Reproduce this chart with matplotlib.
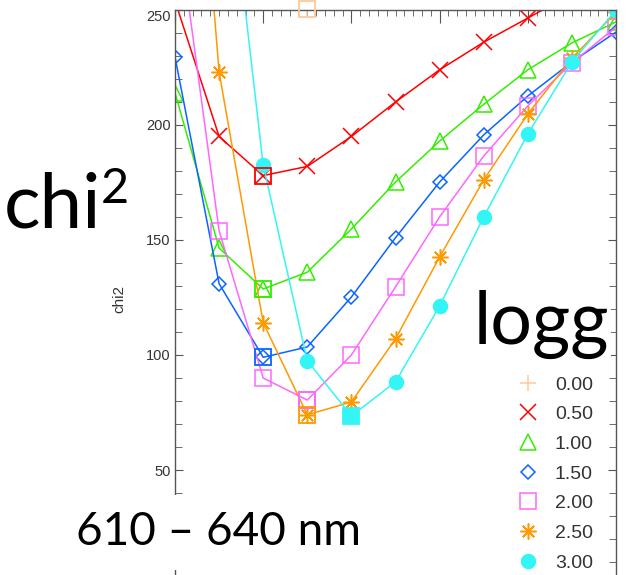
import numpy as np
import matplotlib.pyplot as plt
from matplotlib.lines import Line2D
from matplotlib.ticker import MultipleLocator, FixedLocator

# grid steps along x, chi2 for each logg model
xgrid = [0, 1, 2, 3, 4, 5, 6, 7, 8, 9, 10]
logg_labels = ['0.00', '0.50', '1.00', '1.50', '2.00', '2.50', '3.00']
chi_000 = [420, 330, 275, 250.3, 254.5, 262, 270, 278, 285, 292, 298]
chi_050 = [254, 195, 178, 182, 195, 210, 224, 236, 246.5, 257, 266]
chi_100 = [214, 146.5, 128.7, 136, 154.8, 175.2, 193, 209, 224, 235.7, 244.8]
chi_150 = [229.6, 131, 99, 103.5, 125.2, 151, 175.2, 195.7, 212.6, 227.4, 240.4]
chi_200 = [296, 154, 90, 80.4, 100, 129.6, 160, 186.5, 208.3, 227, 242.6]
chi_250 = [460, 223, 114, 74, 79.6, 107, 142.6, 176.1, 204.8, 229, 249]
chi_300 = [520, 349, 182.6, 97.5, 73.5, 88.3, 121.3, 160, 196.1, 227.4, 250]
yticks = [50, 100, 150, 200, 250]

series = [chi_000, chi_050, chi_100, chi_150, chi_200, chi_250, chi_300]
colors = ['#ffc899', '#ff0000', '#33ee00', '#0a64ff', '#ff66ff', '#ff9900', '#33f5f5']
markers = ['+', 'x', '^', 'D', 's', (8, 2, 0), 'o']
msizes = [11.5, 11.5, 11, 7.5, 11, 11.5, 10]
filled = [False, False, False, False, False, False, True]

fig = plt.figure(figsize=(6.33, 5.75), dpi=100)
ax = fig.add_axes([175/633, -10/575, 441/633, 575/575])

for ys, c, m, ms, f in zip(series, colors, markers, msizes, filled):
    ax.plot(xgrid, ys, color=c, lw=1.1, marker=m, ms=ms, mew=1.1,
            mfc=c if f else 'none', mec=c)
    # square around the best fit of each curve
    i = int(np.argmin(ys))
    ax.plot(xgrid[i], ys[i], ls='none', marker='s', ms=11, mew=1.3,
            mec=c, mfc=c if f else 'none', clip_on=False, zorder=5)

ax.set_xlim(0, 10)
ax.set_ylim(0, 250)

for s in ax.spines.values():
    s.set_color('#555555')
    s.set_linewidth(1.0)

ax.tick_params(axis='x', which='both', direction='in', top=True, bottom=False,
               labelbottom=False, color='#555555')
ax.tick_params(axis='x', which='major', length=9)
ax.tick_params(axis='x', which='minor', length=4)
ax.xaxis.set_major_locator(MultipleLocator(2))
ax.xaxis.set_minor_locator(MultipleLocator(0.2))

ax.tick_params(axis='y', which='both', direction='in', left=True, right=True,
               color='#555555', labelsize=10.5, labelcolor='#333333')
ax.tick_params(axis='y', which='major', length=6, pad=3)
ax.tick_params(axis='y', which='minor', length=5)
ax.yaxis.set_major_locator(FixedLocator(yticks))
ax.yaxis.set_minor_locator(MultipleLocator(10))
for lab in ax.get_yticklabels():
    lab.set_fontfamily('Liberation Sans')
fig.canvas.draw()
ylabs = ax.get_yticklabels()
ylabs[-1].set_va('top')

ax.set_ylabel('chi2', fontsize=11, color='#333333', family='Liberation Sans')
ax.yaxis.set_label_coords(-0.111, 0.497)

handles = [Line2D([], [], ls='none', marker=m, ms=ms, mew=1.1, color=c,
                  mfc=c if f else 'none')
           for c, m, ms, f in zip(colors, markers, msizes, filled)]
leg = ax.legend(handles, logg_labels, loc='upper left',
                bbox_to_anchor=(518/633, 1 - 376/575), bbox_transform=fig.transFigure,
                frameon=False, labelspacing=0.62, handlelength=1.0,
                handletextpad=0.9, borderpad=0, borderaxespad=0,
                prop={'family': 'Liberation Sans', 'size': 14})
for t in leg.get_texts():
    t.set_color('#333333')

# large annotations on top of the plot
big = dict(family='Lato', color='black')
fig.text(4/633, 1 - 228/575, 'chi', fontsize=55, va='baseline', ha='left', **big)
fig.text(101/633, 1 - 203/575, '2', fontsize=35, va='baseline', ha='left', **big)
fig.text(474/633, 1 - 344/575, 'logg', fontsize=53, va='baseline', ha='left',
         bbox=dict(fc='white', ec='none', pad=1), zorder=10, **big)
fig.text(76/633, 1 - 545/575, '610 \u2013 640 nm', fontsize=33, va='baseline', ha='left',
         bbox=dict(fc='white', ec='none', pad=12), zorder=10, **big)

fig.savefig('out.png', dpi=100)
